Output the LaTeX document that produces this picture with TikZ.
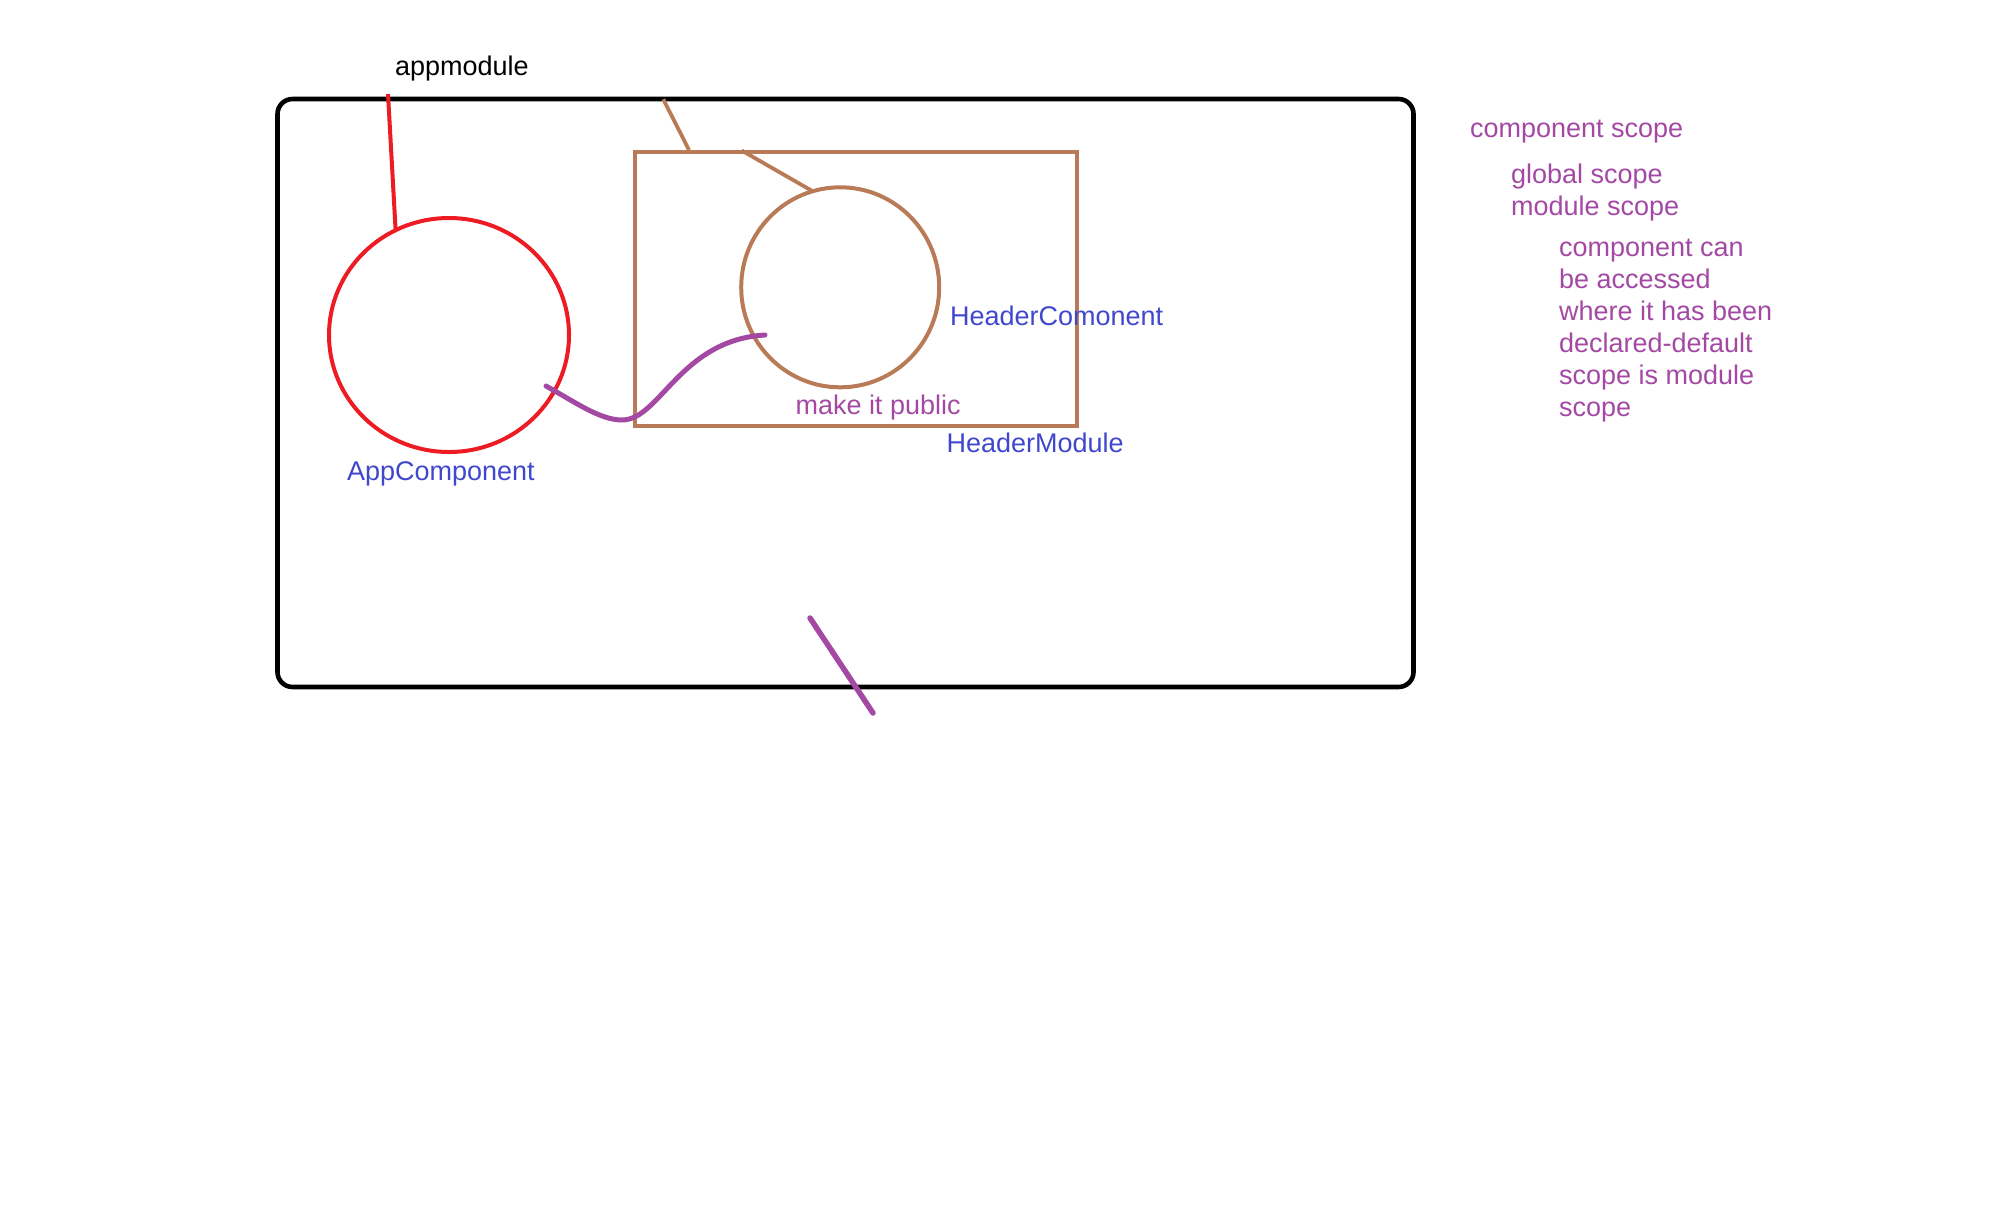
\documentclass[tikz,border=0pt]{standalone}
\usepackage{fontspec}
\setmainfont{Liberation Sans}
\usetikzlibrary{shapes.geometric}
\definecolor{paintred}{HTML}{ED1C24}
\definecolor{paintbrown}{HTML}{B97A57}
\definecolor{paintpurple}{HTML}{A349A4}
\definecolor{paintblue}{HTML}{3F48CC}
\begin{document}
\begin{tikzpicture}[x=1pt,y=-1pt,
  lbl/.style={anchor=base west, inner sep=0pt, outer sep=0pt, align=left,
              font=\fontsize{27}{32}\selectfont},
  shapebox/.style={draw, inner sep=0pt, outer sep=0pt},
  redline/.style={draw=paintred, line width=4pt},
  brownline/.style={draw=paintbrown, line width=3.8pt},
  purpleline/.style={draw=paintpurple, line width=5pt, line cap=round}]
\useasboundingbox (0,0) rectangle (1992,1227);

% outer module frame
\node[shapebox, line width=4.6pt, rounded corners=15pt,
      minimum width=1136pt, minimum height=588pt] (appmod) at (845.5,393) {};

% AppComponent circle
\node[shapebox, ellipse, draw=paintred, line width=4pt,
      minimum width=240pt, minimum height=234pt] (appcomp) at (449,335) {};

% HeaderModule box and its component
\node[shapebox, rectangle, draw=paintbrown, line width=4pt,
      minimum width=442pt, minimum height=274pt] (hdrmod) at (856.4,289.3) {};
\node[shapebox, ellipse, draw=paintbrown, line width=4pt,
      minimum width=198pt, minimum height=200pt] (hdrcomp) at (840.2,287.3) {};

% labels
\node[lbl] (tappmod) at (395,75) {appmodule};
\node[lbl, text=paintblue] (tappcomp) at (347,480) {AppComponent};
\node[lbl, text=paintblue] (thdrcomp) at (950,325.5) {HeaderComonent};
\node[lbl, text=paintpurple] (tpublic) at (795.5,414) {make it public};
\node[lbl, text=paintblue] (thdrmod) at (946.5,452.7) {HeaderModule};

% notes on the right (multi-line nodes sit on their last baseline)
\node[lbl, text=paintpurple] (ncomp) at (1470,137) {component scope};
\node[lbl, text=paintpurple] (nscopes) at (1511,215) {global scope\\module scope};
\node[lbl, text=paintpurple] (ndesc) at (1559,416)
  {component can\\be accessed\\where it has been\\declared-default\\scope is module\\scope};

% pointer lines
\coordinate (redtop) at (388,94);
\draw[redline] (redtop) -- (appcomp.117);

\coordinate (brtop) at (663.3,99.3);
\coordinate (brbox) at (689,150);
\draw[brownline] (brtop) -- (brbox);

\coordinate (brbox2) at (741.7,150.5);
\draw[brownline] (brbox2) -- (hdrcomp.106);

% link from AppComponent into HeaderComponent
\coordinate (linkstart) at (546,386);
\coordinate (linklow) at (622,420);
\coordinate (linkend) at (765,335);
\draw[purpleline] (linkstart) .. controls (575,402) and (600,420) .. (linklow)
                  .. controls (660,420) and (680,340) .. (linkend);

% stroke across the bottom edge
\coordinate (slashtop) at (810,618);
\coordinate (slashbot) at (873,713);
\draw[purpleline, line width=5.5pt] (slashtop) -- (slashbot);
\end{tikzpicture}
\end{document}
